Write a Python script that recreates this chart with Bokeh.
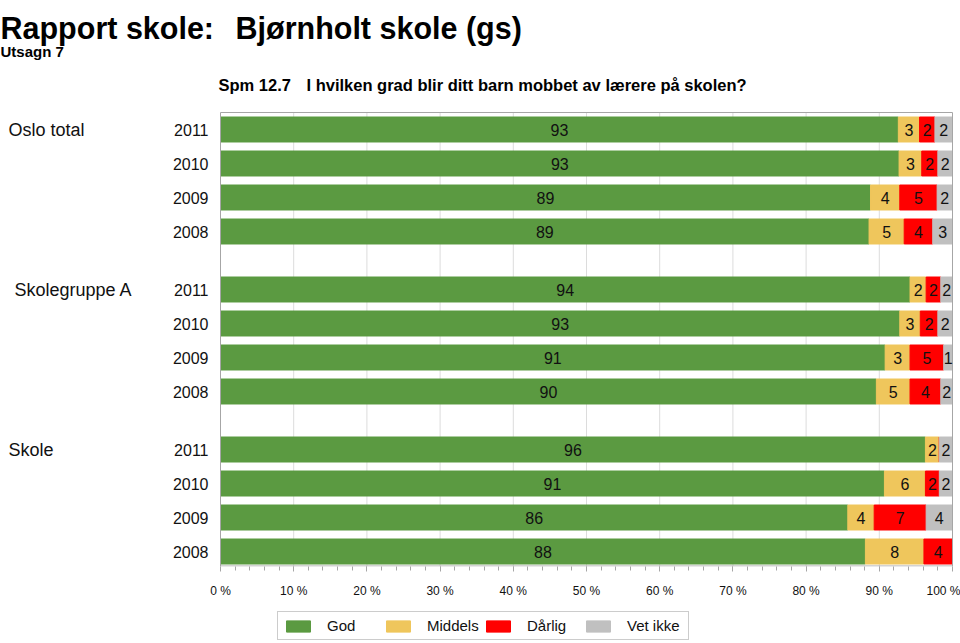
import numpy as np
from bokeh.plotting import figure
from bokeh.layouts import column
from bokeh.models import ColumnDataSource, Range1d, FixedTicker, Legend, LegendItem
from bokeh.core.properties import value
from bokeh.embed import file_html
from bokeh.resources import INLINE

# ---------------- data ----------------
title_left = "Rapport skole:"
title_right = "Bjørnholt skole (gs)"
subtitle_text = "Utsagn 7"
question_no = "Spm 12.7"
question_text = "I hvilken grad blir ditt barn mobbet av lærere på skolen?"

groups = ["Oslo total", "Skolegruppe A", "Skole"]
years = ["2011", "2010", "2009", "2008"]
categories = ["God", "Middels", "Dårlig", "Vet ikke"]

god      = [92.6, 92.7, 88.8, 88.6,  94.2, 92.8, 90.8, 89.6,  96.3, 90.7, 85.7, 88.1]
middels  = [2.9, 3.1, 4.0, 4.8,  2.2, 2.8, 3.4, 4.6,  1.9, 5.6, 3.6, 8.0]
darlig   = [2.1, 2.2, 5.1, 3.9,  2.0, 2.4, 4.6, 4.2,  0.0, 1.9, 7.1, 3.9]
vet_ikke = [2.4, 2.0, 2.1, 2.7,  1.6, 2.0, 1.2, 1.6,  1.8, 1.8, 3.6, 0.0]

x_ticks = [0, 10, 20, 30, 40, 50, 60, 70, 80, 90, 100]
x_tick_labels = ["0 %", "10 %", "20 %", "30 %", "40 %", "50 %", "60 %", "70 %", "80 %", "90 %", "100 %"]

# ---------------- style / layout ----------------
colors = ["#5b9a41", "#efc65c", "#ff0000", "#c0c0c0"]
FONT = "Liberation Sans"
TXT = "#111111"
W = 960
MAIN_H, LEG_H = 600, 43
X0_PX, X100_PX = 220, 952          # pixel position of 0 % and 100 %
ROW0_PX, ROW_PX = 129, 34          # centre of first bar row, row pitch
BOX_TOP_PX, BOX_BOTTOM_PX = 112, 566
GROUP_PITCH = 4.706                # rows between group starts
BAR_H = 0.735


def xd(px):
    return (px - X0_PX) / (X100_PX - X0_PX) * 100.0


def yd(py):
    return (py - ROW0_PX) / ROW_PX


n_rows = len(groups) * len(years)
ys = [g * GROUP_PITCH + r for g in range(len(groups)) for r in range(len(years))]

p = figure(width=W, height=MAIN_H, output_backend="svg", toolbar_location=None,
           x_range=Range1d(xd(0), xd(W)), y_range=Range1d(yd(BOX_BOTTOM_PX), yd(0)),
           min_border_left=0, min_border_right=0, min_border_top=0,
           min_border_bottom=MAIN_H - BOX_BOTTOM_PX)
p.title.visible = False
p.outline_line_color = None
p.xgrid.visible = False
p.ygrid.visible = False
p.yaxis.visible = False

box_top, box_bottom = yd(BOX_TOP_PX), yd(BOX_BOTTOM_PX - 0.5)

# vertical grid lines inside the plot box
p.segment(x0=x_ticks[1:-1], x1=x_ticks[1:-1], y0=[box_top] * 9, y1=[box_bottom] * 9,
          line_color="#dcdcdc", line_width=1)

src = ColumnDataSource(dict(y=ys, god=god, middels=middels, darlig=darlig, vet=vet_ikke))
renderers = p.hbar_stack(["god", "middels", "darlig", "vet"], y="y", height=BAR_H,
                         color=colors, source=src)

# plot box outline
p.quad(left=[0], right=[100], top=[box_top], bottom=[box_bottom],
       fill_color=None, line_color="#a6a6a6", line_width=1)

# values inside segments
lx, ly, lt = [], [], []
stack = np.array([god, middels, darlig, vet_ikke])
left = np.zeros(n_rows)
for k in range(stack.shape[0]):
    for i in range(n_rows):
        v = stack[k, i]
        if v > 0:
            lx.append(left[i] + v / 2)
            ly.append(ys[i])
            lt.append(str(int(v + 0.5)))
    left = left + stack[k]
p.text(x="x", y="y", text="t", source=ColumnDataSource(dict(x=lx, y=ly, t=lt)),
       text_align="center", text_baseline="middle", text_font=value(FONT),
       text_font_size="16px", text_color=TXT)

# group and year labels
group_label_px = [8, 14, 8]
p.text(x=[xd(v) for v in group_label_px], y=[ys[g * len(years)] for g in range(len(groups))],
       text=groups, text_align="left", text_baseline="middle", text_font=value(FONT),
       text_font_size="18px", text_color=TXT)
p.text(x=[xd(208)] * n_rows, y=ys, text=[years[i % len(years)] for i in range(n_rows)],
       text_align="right", text_baseline="middle", text_font=value(FONT),
       text_font_size="16px", text_color=TXT)

# titles
for txt, px, py, size in [(title_left, 0, 27, "30.5px"), (title_right, 235, 27, "30.5px"),
                          (subtitle_text, 0, 51, "15px"),
                          (question_no, 218, 84, "16.5px"), (question_text, 306, 84, "16.5px")]:
    p.text(x=[xd(px)], y=[yd(py)], text=[txt], text_font=value(FONT), text_font_size=size,
           text_font_style="bold", text_baseline="alphabetic", text_align="left",
           text_color="black")

# x axis
ax = p.xaxis[0]
ax.ticker = FixedTicker(ticks=x_ticks, minor_ticks=list(range(0, 101, 2)))
ax.major_label_overrides = {t: l for t, l in zip(x_ticks, x_tick_labels)}
ax.major_label_text_font = FONT
ax.major_label_text_font_size = "12px"
ax.major_label_text_color = TXT
ax.major_label_standoff = 12
ax.major_tick_in = 0
ax.major_tick_out = 5
ax.minor_tick_in = 0
ax.minor_tick_out = 4
ax.axis_line_color = None
ax.major_tick_line_color = "#a6a6a6"
ax.minor_tick_line_color = "#a6a6a6"

# ---------- legend strip ----------
lg = figure(width=W, height=LEG_H, output_backend="svg", toolbar_location=None,
            x_range=Range1d(0, W), y_range=Range1d(LEG_H, 0),
            min_border_left=0, min_border_right=0, min_border_top=0, min_border_bottom=0)
lg.title.visible = False
lg.outline_line_color = None
lg.xaxis.visible = False
lg.yaxis.visible = False
lg.xgrid.visible = False
lg.ygrid.visible = False
# legend swatch renderers (their own quads lie outside the visible range)
leg_renderers = [lg.quad(left=[-20], right=[-10], top=[-20], bottom=[-10],
                         fill_color=c, line_color=c) for c in colors]
legend = Legend(items=[LegendItem(label=c, renderers=[r]) for c, r in zip(categories, leg_renderers)],
                orientation="horizontal", location=(277, 3),
                glyph_width=30, glyph_height=14, label_standoff=14, label_width=56,
                spacing=0, padding=5, margin=0,
                label_text_font=FONT, label_text_font_size="15px", label_text_color=TXT,
                border_line_color="#999999", background_fill_alpha=1.0)
lg.add_layout(legend)

layout = column(p, lg, spacing=0)
open("out.html", "w").write(file_html(layout, INLINE))
